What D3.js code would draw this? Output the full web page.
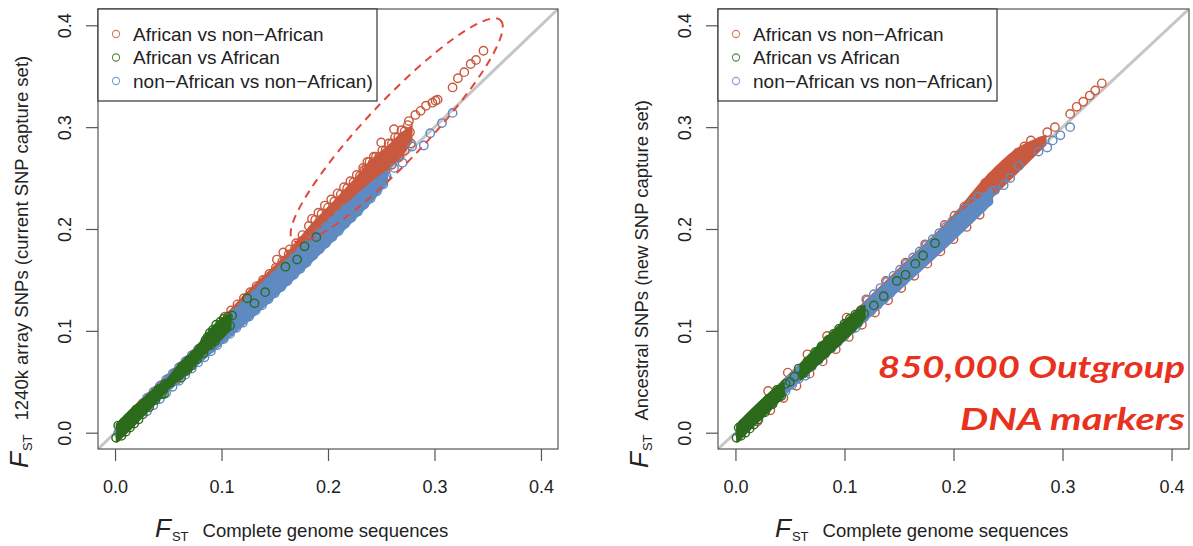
<!DOCTYPE html>
<html>
<head>
<meta charset="utf-8">
<script src="https://cdn.jsdelivr.net/npm/d3@7"></script>
<style>
    body { margin: 0; background: #fff; }
    svg { display: block; font-family: "Liberation Sans", Arial, Helvetica, sans-serif; }
</style>
</head>
<body>
<svg id="chart" width="1193" height="546"></svg>
<script>
//-------------------
// DATA
//-------------------
var axisDomain = [-0.016, 0.416];
var tickValues = [0, 0.1, 0.2, 0.3, 0.4];
var tickLabels = ["0.0", "0.1", "0.2", "0.3", "0.4"];
var legendLabels = ["African vs non\u2212African", "African vs African", "non\u2212African vs non\u2212African)"];
var xTitle = "Complete genome sequences";
var yTitles = ["1240k array SNPs (current SNP capture set)", "Ancestral SNPs (new SNP capture set)"];
var noteLines = ["850,000 Outgroup", "DNA markers"];
// dashed ellipse (left panel), ends of its long axis in data units
var ellipseTips = [[0.167, 0.189], [0.362, 0.405]];

// dense cores where the open circles pile up: [x, low y, high y] (null = gap)
var afrNonAfrLeftBand = [
    [0.100,0.100,0.110],[0.130,0.130,0.143],[0.160,0.158,0.173],[0.186,0.185,0.205],[0.211,0.210,0.232],
    [0.227,0.228,0.250],[0.239,0.240,0.265],[0.258,0.261,0.282],[0.270,0.274,0.294],[0.278,0.286,0.300]
];
var nonAfrLeftBand = [
    [0.002,-0.004,0.006],[0.030,0.022,0.036],[0.060,0.051,0.066],[0.090,0.079,0.097],[0.120,0.106,0.127],
    [0.150,0.134,0.157],[0.180,0.164,0.186],[0.210,0.195,0.216],[0.240,0.227,0.244],[0.255,0.245,0.256]
];
var afrAfrLeftBand = [
    [0.002,-0.008,0.008],[0.015,0.005,0.022],[0.028,0.019,0.034],[0.040,0.032,0.045],[0.050,0.044,0.053],
    [0.060,0.053,0.066],[0.072,0.064,0.078],[0.082,0.076,0.090],[0.090,0.084,0.101],[0.100,0.093,0.111],
    [0.108,0.102,0.115]
];
var afrNonAfrRightBand = [
    [0.020,0.014,0.026],[0.100,0.093,0.108],[0.150,0.142,0.160],[0.200,0.191,0.212],[0.230,0.226,0.250],
    [0.260,0.258,0.279],[0.284,0.283,0.291]
];
var nonAfrRightBand = [
    [0.002,-0.004,0.004],[0.050,0.043,0.056],[0.100,0.092,0.107],[0.150,0.141,0.158],[0.200,0.190,0.209],
    [0.235,0.226,0.238]
];
var afrAfrRightBand = [
    [0.002,-0.008,0.008],[0.015,0.006,0.022],[0.030,0.021,0.037],[0.044,0.036,0.049],null,
    [0.060,0.053,0.067],[0.080,0.072,0.089],[0.100,0.092,0.109],[0.118,0.112,0.124]
];

// left panel points: 1240k array vs complete genomes
var afrNonAfrLeft = [
    [0.020,0.023],[0.026,0.029],[0.032,0.035],[0.038,0.041],[0.044,0.047],[0.050,0.053],[0.056,0.059],[0.062,0.065],
    [0.068,0.071],[0.074,0.077],[0.080,0.083],[0.086,0.089],[0.092,0.095],[0.098,0.101],[0.104,0.107],[0.110,0.113],
    [0.116,0.119],[0.122,0.125],[0.128,0.131],[0.134,0.137],[0.140,0.143],[0.146,0.149],[0.152,0.155],[0.158,0.161],
    [0.164,0.167],[0.170,0.173],[0.176,0.179],[0.182,0.185],[0.188,0.191],[0.194,0.197],[0.200,0.203],[0.206,0.209],
    [0.212,0.215],[0.218,0.221],[0.224,0.227],[0.230,0.233],[0.236,0.239],[0.242,0.245],[0.248,0.251],[0.254,0.257],
    [0.260,0.263],[0.266,0.270],[0.272,0.277],[0.278,0.284],
    [0.103,0.114],[0.109,0.120],[0.115,0.126],[0.121,0.132],[0.127,0.138],[0.133,0.144],[0.139,0.150],[0.145,0.156],
    [0.151,0.162],[0.157,0.168],[0.163,0.175],[0.169,0.181],[0.175,0.188],[0.181,0.194],[0.187,0.201],[0.193,0.207],
    [0.199,0.213],[0.205,0.219],[0.211,0.226],[0.217,0.232],[0.223,0.238],[0.229,0.244],[0.235,0.251],[0.241,0.257],
    [0.247,0.263],[0.253,0.270],[0.259,0.276],[0.265,0.282],[0.271,0.289],[0.277,0.295],
    [0.152,0.170],[0.158,0.177],[0.164,0.180],[0.170,0.186],[0.176,0.194],[0.182,0.203],[0.188,0.209],[0.194,0.215],
    [0.200,0.221],[0.206,0.227],[0.212,0.234],[0.218,0.240],[0.224,0.246],[0.230,0.252],[0.236,0.259],[0.242,0.265],
    [0.248,0.271],[0.254,0.277],[0.260,0.284],[0.266,0.290],[0.272,0.296],
    [0.185,0.210],[0.191,0.216],[0.197,0.223],[0.203,0.229],[0.209,0.235],[0.215,0.241],[0.221,0.247],[0.227,0.253],
    [0.233,0.260],[0.239,0.266],[0.245,0.271],[0.251,0.277],[0.257,0.284],[0.263,0.290],[0.269,0.297],[0.275,0.302],
    [0.058,0.052],[0.072,0.066],[0.090,0.083],[0.096,0.089],[0.102,0.094],[0.108,0.099],[0.114,0.106],[0.120,0.112],
    [0.126,0.118],
    [0.234,0.258],[0.237,0.266],[0.243,0.271],[0.250,0.285],[0.262,0.298],[0.267,0.271],[0.276,0.306],[0.282,0.312],
    [0.287,0.316],[0.292,0.321],[0.298,0.324],[0.301,0.326],[0.303,0.327],[0.317,0.339],[0.322,0.348],[0.328,0.354],
    [0.334,0.362],[0.339,0.366],[0.346,0.375]
];
var nonAfrLeft = [
    [0.030,0.021],[0.036,0.027],[0.042,0.033],[0.048,0.039],[0.054,0.045],[0.060,0.051],[0.066,0.057],[0.072,0.063],
    [0.078,0.069],[0.084,0.074],[0.090,0.080],[0.096,0.086],[0.102,0.092],[0.108,0.097],[0.114,0.103],[0.120,0.108],
    [0.126,0.114],[0.132,0.120],[0.138,0.125],[0.144,0.131],[0.150,0.137],[0.156,0.143],[0.162,0.149],[0.168,0.155],
    [0.174,0.161],[0.180,0.167],[0.186,0.174],[0.192,0.180],[0.198,0.186],[0.204,0.192],[0.210,0.198],[0.216,0.205],
    [0.222,0.211],[0.228,0.217],[0.234,0.224],[0.240,0.230],[0.246,0.237],[0.252,0.244],
    [0.003,0.000],[0.009,0.006],[0.015,0.012],[0.021,0.018],[0.027,0.024],[0.033,0.030],[0.039,0.036],[0.045,0.042],
    [0.051,0.048],[0.057,0.054],[0.063,0.060],[0.069,0.066],[0.075,0.072],[0.081,0.078],[0.087,0.084],[0.093,0.090],
    [0.099,0.096],[0.105,0.102],[0.111,0.108],[0.117,0.114],[0.123,0.120],[0.129,0.126],[0.135,0.132],[0.141,0.138],
    [0.147,0.144],[0.153,0.150],[0.159,0.156],[0.165,0.162],[0.171,0.168],[0.177,0.174],[0.183,0.180],[0.189,0.186],
    [0.195,0.192],[0.201,0.198],[0.207,0.204],[0.213,0.210],[0.219,0.216],[0.225,0.222],[0.231,0.228],[0.237,0.234],
    [0.243,0.240],[0.249,0.246],[0.255,0.252],
    [0.030,0.034],[0.036,0.040],[0.042,0.046],[0.048,0.052],[0.054,0.058],[0.060,0.064],[0.066,0.070],[0.072,0.076],
    [0.078,0.082],[0.084,0.088],[0.090,0.094],[0.096,0.100],[0.102,0.106],[0.108,0.112],[0.114,0.118],[0.120,0.124],
    [0.126,0.130],[0.132,0.136],[0.138,0.142],[0.144,0.148],[0.150,0.154],[0.156,0.160],[0.162,0.166],[0.168,0.172],
    [0.174,0.178],[0.180,0.184],[0.186,0.190],[0.192,0.196],[0.198,0.202],[0.204,0.208],[0.210,0.214],[0.216,0.220],
    [0.243,0.238],[0.254,0.250],[0.262,0.260],[0.270,0.265],[0.279,0.281],[0.290,0.282],[0.296,0.294],[0.307,0.304],
    [0.317,0.314]
];
var afrAfrLeft = [
    [0.001,-0.005],[0.003,0.007],[0.006,-0.003],[0.008,0.010],[0.010,0.001],[0.012,0.014],[0.014,0.005],[0.016,0.018],
    [0.018,0.009],[0.020,0.022],[0.022,0.013],[0.024,0.026],[0.026,0.018],[0.029,0.030],[0.032,0.025],[0.035,0.036],
    [0.038,0.032],[0.041,0.043],[0.044,0.038],[0.047,0.048],[0.052,0.049],[0.056,0.054],[0.060,0.056],[0.063,0.065],
    [0.066,0.060],[0.069,0.071],[0.072,0.066],[0.075,0.077],[0.077,0.072],[0.080,0.083],[0.083,0.078],[0.085,0.091],
    [0.087,0.094],[0.089,0.098],[0.090,0.086],[0.092,0.101],[0.094,0.090],[0.095,0.106],[0.097,0.095],[0.099,0.109],
    [0.100,0.098],[0.102,0.112],[0.104,0.102],[0.106,0.114],[0.108,0.105],[0.110,0.115],
    [0.046,0.038],[0.062,0.054],[0.068,0.062],[0.124,0.132],[0.131,0.127],[0.141,0.138],[0.160,0.163],[0.171,0.170],
    [0.178,0.183],[0.189,0.192]
];

// right panel points: ancestral SNPs vs complete genomes
var afrNonAfrRight = [
    [0.020,0.011],[0.032,0.022],[0.044,0.034],[0.056,0.046],[0.068,0.058],[0.080,0.070],[0.092,0.082],[0.104,0.094],
    [0.116,0.106],[0.128,0.118],[0.140,0.130],[0.152,0.142],[0.164,0.154],[0.176,0.166],[0.188,0.178],[0.200,0.190],
    [0.212,0.202],[0.224,0.214],
    [0.030,0.041],[0.048,0.059],[0.066,0.077],[0.084,0.095],[0.102,0.113],[0.120,0.131],[0.138,0.149],[0.156,0.167],
    [0.174,0.185],[0.192,0.204],[0.201,0.213],[0.210,0.222],[0.219,0.231],[0.228,0.241],[0.237,0.250],[0.246,0.259],
    [0.226,0.232],[0.232,0.238],[0.238,0.244],[0.244,0.250],[0.250,0.256],[0.256,0.262],[0.262,0.268],[0.268,0.274],
    [0.274,0.280],[0.280,0.286],
    [0.229,0.245],[0.235,0.251],[0.241,0.257],[0.247,0.263],[0.253,0.269],[0.259,0.275],[0.265,0.281],[0.271,0.287],
    [0.274,0.279],[0.286,0.295],[0.293,0.300],[0.307,0.313],[0.313,0.320],[0.319,0.325],[0.325,0.331],[0.330,0.336],
    [0.336,0.343]
];
var nonAfrRight = [
    [0.004,-0.001],[0.010,0.005],[0.016,0.011],[0.022,0.017],[0.028,0.023],[0.034,0.029],[0.040,0.035],[0.046,0.041],
    [0.052,0.047],[0.058,0.053],[0.064,0.059],[0.070,0.065],[0.076,0.071],[0.082,0.077],[0.088,0.083],[0.094,0.089],
    [0.100,0.095],[0.106,0.101],[0.112,0.107],[0.118,0.113],[0.124,0.119],[0.130,0.125],[0.136,0.131],[0.142,0.137],
    [0.148,0.143],[0.154,0.149],[0.160,0.155],[0.166,0.161],[0.172,0.167],[0.178,0.173],[0.184,0.179],[0.190,0.185],
    [0.196,0.191],[0.202,0.197],[0.208,0.203],[0.214,0.209],[0.220,0.215],[0.226,0.221],[0.232,0.227],
    [0.007,0.009],[0.013,0.015],[0.019,0.021],[0.025,0.027],[0.031,0.033],[0.037,0.039],[0.043,0.045],[0.049,0.051],
    [0.055,0.057],[0.061,0.063],[0.067,0.069],[0.073,0.075],[0.079,0.081],[0.085,0.087],[0.091,0.093],[0.097,0.099],
    [0.103,0.105],[0.109,0.111],[0.115,0.117],[0.121,0.123],[0.127,0.129],[0.133,0.135],[0.139,0.141],[0.145,0.147],
    [0.151,0.153],[0.157,0.159],[0.163,0.165],[0.169,0.171],[0.175,0.177],[0.181,0.183],[0.187,0.189],[0.193,0.195],
    [0.199,0.201],[0.205,0.207],[0.211,0.213],[0.217,0.219],[0.223,0.225],[0.229,0.231],[0.235,0.237],
    [0.121,0.130],[0.127,0.136],[0.133,0.142],[0.139,0.148],[0.145,0.154],[0.151,0.160],[0.157,0.166],[0.163,0.172],
    [0.169,0.178],[0.175,0.184],[0.181,0.190],[0.187,0.196],[0.193,0.202],[0.199,0.208],[0.205,0.214],[0.211,0.220],
    [0.217,0.226],[0.223,0.232],
    [0.238,0.238],[0.246,0.243],[0.252,0.250],[0.260,0.262],[0.278,0.276],[0.286,0.280],[0.291,0.287],[0.298,0.292],
    [0.307,0.300],[0.064,0.056],[0.110,0.103]
];
var afrAfrRight = [
    [0.001,-0.005],[0.003,0.005],[0.005,-0.003],[0.007,0.008],[0.009,0.000],[0.011,0.012],[0.013,0.004],[0.015,0.016],
    [0.017,0.008],[0.019,0.020],[0.021,0.013],[0.024,0.025],[0.027,0.020],[0.030,0.033],[0.034,0.028],[0.038,0.042],
    [0.042,0.036],[0.046,0.048],[0.058,0.063],[0.062,0.058],[0.066,0.070],[0.070,0.066],[0.073,0.079],[0.076,0.072],
    [0.079,0.085],[0.082,0.078],[0.085,0.091],[0.087,0.083],[0.090,0.097],[0.092,0.088],[0.095,0.102],[0.097,0.093],
    [0.100,0.107],[0.102,0.098],[0.105,0.112],[0.107,0.103],[0.110,0.116],[0.112,0.108],[0.115,0.120],[0.118,0.117],
    [0.050,0.050],[0.054,0.055],[0.127,0.125],[0.136,0.134],[0.148,0.149],[0.156,0.155],[0.165,0.166],[0.172,0.174],
    [0.183,0.186]
];

//-------------------
// GLOBAL VARIABLES
//-------------------
var colors = { afrNon: "#c95a3f", afrAfr: "#2c6b1c", nonNon: "#5f8ac2" };
var svg = d3.select("#chart");
var plotTop = 9, plotBottom = 449;

var panels = [
    { xRange: [98, 558],
      red: [afrNonAfrLeft, afrNonAfrLeftBand], green: [afrAfrLeft, afrAfrLeftBand], blue: [nonAfrLeft, nonAfrLeftBand],
      yTitle: yTitles[0], yLabelX: 28, xLabelX: 155, ellipse: true },
    { xRange: [718, 1189],
      red: [afrNonAfrRight, afrNonAfrRightBand], green: [afrAfrRight, afrAfrRightBand], blue: [nonAfrRight, nonAfrRightBand],
      yTitle: yTitles[1], yLabelX: 648, xLabelX: 775, ellipse: false }
];

panels.forEach(drawPanel);
drawNote();

//-------------------
//   DRAW ONE PANEL
//-------------------
function drawPanel(p, idx) {
    var x = d3.scaleLinear().domain(axisDomain).range(p.xRange);
    var y = d3.scaleLinear().domain(axisDomain).range([plotBottom, plotTop]);
    var g = svg.append("g");

    var clipId = "clip" + idx;
    g.append("clipPath").attr("id", clipId)
        .append("rect")
        .attr("x", p.xRange[0]).attr("y", plotTop)
        .attr("width", p.xRange[1] - p.xRange[0]).attr("height", plotBottom - plotTop);

    var inner = g.append("g").attr("clip-path", "url(#" + clipId + ")");

    // 1:1 line
    inner.append("path")
        .datum(axisDomain)
        .attr("d", d3.line().x(d => x(d)).y(d => y(d)))
        .attr("stroke", "#c6c6c6")
        .attr("stroke-width", 3)
        .attr("fill", "none");

    var band = d3.area()
        .defined(d => d !== null)
        .x(d => x(d[0]))
        .y0(d => y(d[1]))
        .y1(d => y(d[2]))
        .curve(d3.curveMonotoneX);

    // red first, then blue, green on top
    [[p.red, colors.afrNon], [p.blue, colors.nonNon], [p.green, colors.afrAfr]].forEach(s => {
        inner.append("path")
            .datum(s[0][1])
            .attr("d", band)
            .attr("fill", s[1])
            .attr("stroke", s[1])
            .attr("stroke-width", 3)
            .attr("stroke-linejoin", "round");
        inner.append("g").selectAll("circle").data(s[0][0])
            .join("circle")
            .attr("cx", d => x(d[0]))
            .attr("cy", d => y(d[1]))
            .attr("r", 4.2)
            .attr("fill", "none")
            .attr("stroke", s[1])
            .attr("stroke-width", 1.4);
    });

    if (p.ellipse) {
        var a = [x(ellipseTips[0][0]), y(ellipseTips[0][1])];
        var b = [x(ellipseTips[1][0]), y(ellipseTips[1][1])];
        var angle = Math.atan2(b[1] - a[1], b[0] - a[0]) * 180 / Math.PI;
        g.append("ellipse")
            .attr("transform", "translate(" + (a[0] + b[0]) / 2 + "," + (a[1] + b[1]) / 2 + ") rotate(" + angle + ")")
            .attr("rx", Math.hypot(b[0] - a[0], b[1] - a[1]) / 2)
            .attr("ry", 30)
            .attr("fill", "none")
            .attr("stroke", "#e2473b")
            .attr("stroke-width", 2)
            .attr("stroke-dasharray", "8,6");
    }

    // axes
    var xAxis = g.append("g")
        .attr("transform", "translate(0," + plotBottom + ")")
        .call(d3.axisBottom(x).tickValues(tickValues).tickFormat((d, i) => tickLabels[i])
            .tickSize(12).tickSizeOuter(0).tickPadding(19));
    var yAxis = g.append("g")
        .attr("transform", "translate(" + p.xRange[0] + ",0)")
        .call(d3.axisLeft(y).tickValues(tickValues).tickFormat((d, i) => tickLabels[i])
            .tickSize(12).tickSizeOuter(0));
    yAxis.selectAll(".tick text")
        .attr("x", null).attr("dy", null)
        .attr("text-anchor", "middle")
        .attr("transform", "translate(-27,0) rotate(-90)");
    [xAxis, yAxis].forEach(ax => {
        ax.selectAll(".domain").remove();
        ax.selectAll(".tick line").attr("stroke", "#555").attr("stroke-width", 1.2);
        ax.selectAll(".tick text").attr("font-size", 18).attr("fill", "#222")
            .attr("font-family", "'Liberation Sans', Arial, sans-serif");
    });

    // box
    g.append("rect")
        .attr("x", p.xRange[0]).attr("y", plotTop)
        .attr("width", p.xRange[1] - p.xRange[0]).attr("height", plotBottom - plotTop)
        .attr("fill", "none").attr("stroke", "#555").attr("stroke-width", 1.2);

    // legend
    var lg = g.append("g").attr("transform", "translate(" + p.xRange[0] + "," + plotTop + ")");
    lg.append("rect").attr("width", 279).attr("height", 92)
        .attr("fill", "#fff").attr("stroke", "#333").attr("stroke-width", 1.2);
    var legendColors = [colors.afrNon, colors.afrAfr, colors.nonNon];
    legendLabels.forEach((label, i) => {
        lg.append("circle").attr("cx", 18).attr("cy", 25 + i * 23.5).attr("r", 3.6)
            .attr("fill", "none").attr("stroke", legendColors[i]).attr("stroke-width", 1.1)
            .attr("stroke-opacity", 0.8);
        lg.append("text").attr("x", 35).attr("y", 25 + i * 23.5).attr("dy", "0.36em")
            .attr("font-size", 19).attr("fill", "#222").text(label);
    });

    // axis titles
    addTitle(svg.append("text").attr("transform", "translate(" + p.xLabelX + ",537)"), xTitle);
    addTitle(svg.append("text").attr("transform", "translate(" + p.yLabelX + ",468) rotate(-90)"), p.yTitle);
}

function addTitle(t, label) {
    t.attr("fill", "#222");
    t.append("tspan").attr("font-style", "italic").attr("font-size", 26).text("F");
    t.append("tspan").attr("font-size", 13).attr("dx", 1).attr("dy", 4).text("ST");
    t.append("tspan").attr("font-size", 18.5).attr("dx", 14).attr("dy", -4).text(label);
}

//-------------------
//   RED NOTE
//-------------------
function drawNote() {
    var lengths = [307, 225];
    noteLines.forEach((line, i) => {
        svg.append("text")
            .attr("x", 1185).attr("y", 378 + i * 52)
            .attr("text-anchor", "end")
            .attr("font-family", "Lato, 'Open Sans', sans-serif")
            .attr("font-weight", "bold").attr("font-style", "italic")
            .attr("font-size", 30).attr("fill", "#e8321e")
            .attr("textLength", lengths[i]).attr("lengthAdjust", "spacingAndGlyphs")
            .text(line);
    });
}
</script>
</body>
</html>
